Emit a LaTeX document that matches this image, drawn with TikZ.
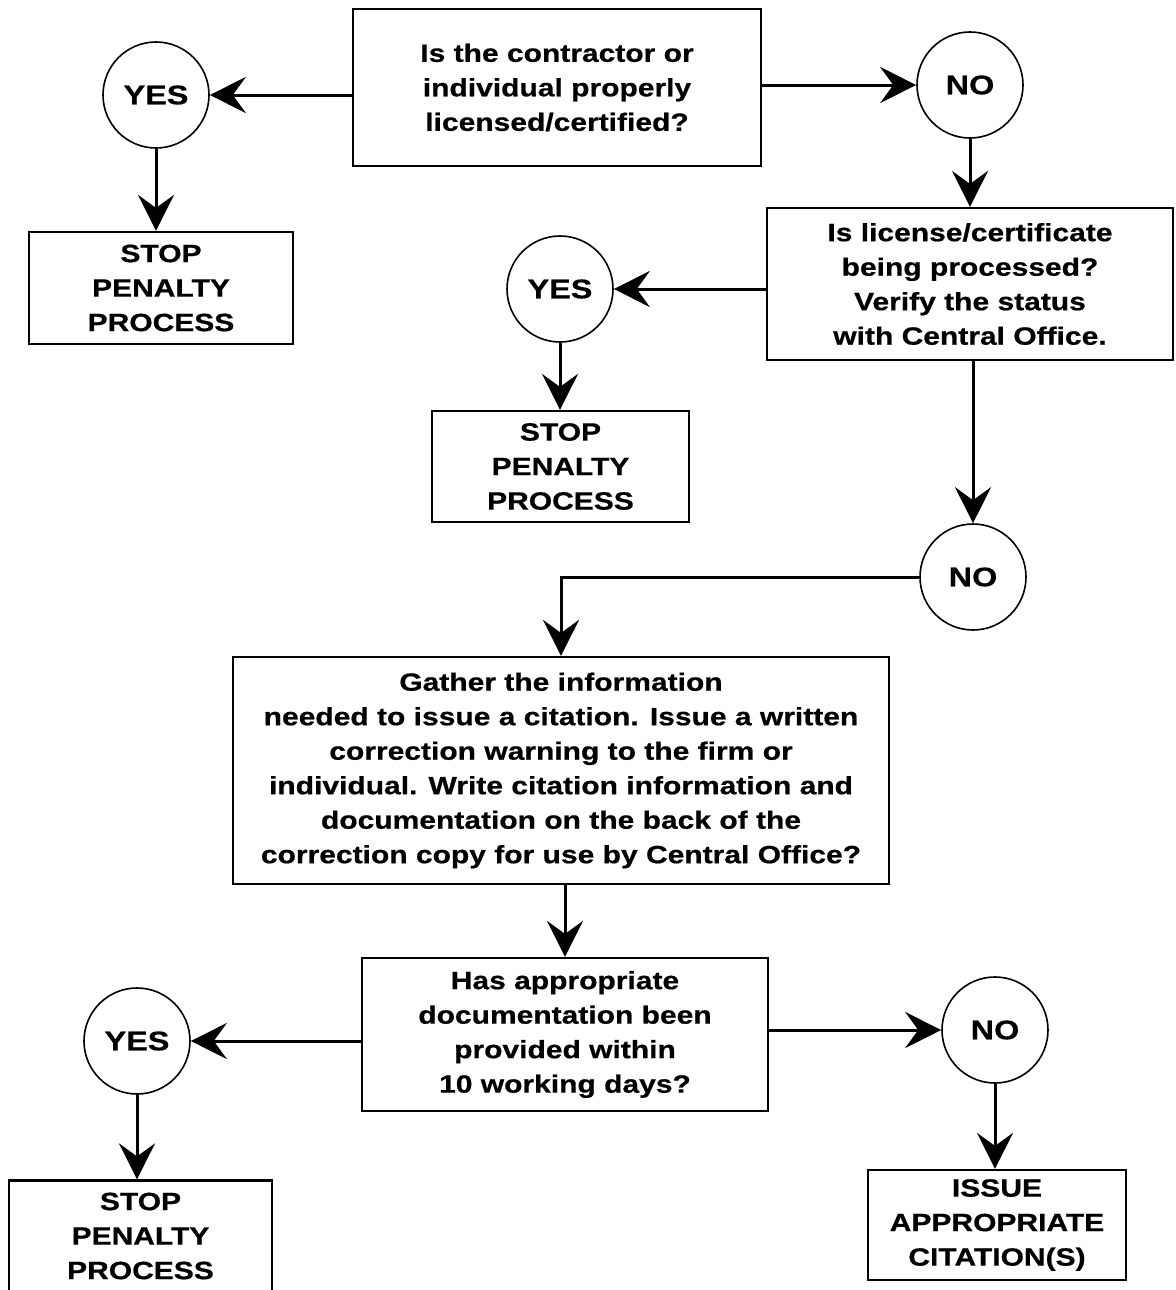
\documentclass[tikz,border=0pt]{standalone}
\usepackage{fontspec}
\setmainfont{Liberation Sans}[FakeStretch=1.2, BoldFeatures={FakeStretch=1.2, FakeBold=0.6}]
\usetikzlibrary{arrows.meta}
\begin{document}
\begin{tikzpicture}[x=1pt,y=-1pt,
  txt/.style={font=\fontsize{25}{34.5}\selectfont\bfseries, align=center},
  box/.style={txt, draw, line width=2.2pt, rectangle, inner sep=0pt},
  circ/.style={draw, line width=1.6pt, circle, minimum size=106pt, inner sep=0pt, font=\fontsize{27}{30}\selectfont\bfseries},
  arr/.style={line width=3pt, -{Stealth[length=36pt,width=36pt,inset=13pt]}}
]
\useasboundingbox (0,0) rectangle (1175,1290);
% boxes
\node[box, minimum width=408pt, minimum height=157pt] (b1) at (557,87.5) {Is the contractor or\\individual properly\\licensed/certified?};
\node[box, minimum width=406pt, minimum height=152pt] (b2) at (970,284) {Is license/certificate\\being processed?\\Verify the status\\with Central Office.};
\node[box, minimum width=264pt, minimum height=112pt] (s1) at (161,288) {STOP\\PENALTY\\PROCESS};
\node[box, minimum width=257pt, minimum height=111pt] (s2) at (560.5,466.5) {STOP\\PENALTY\\PROCESS};
\node[box, minimum width=656pt, minimum height=227pt] (b3) at (561,770.5) {Gather the information\\needed to issue a citation. Issue a written\\correction warning to the firm or\\individual. Write citation information and\\documentation on the back of the\\correction copy for use by Central Office?};
\node[box, minimum width=406pt, minimum height=153pt] (b4) at (565,1034.5) {Has appropriate\\documentation been\\provided within\\10 working days?};
\node[box, minimum width=263pt, minimum height=111pt] (s3) at (140.5,1236) {STOP\\PENALTY\\PROCESS};
\node[box, minimum width=258pt, minimum height=110pt] (b5) at (997,1225) {ISSUE\\APPROPRIATE\\CITATION(S)};
% circles
\node[circ] (y1) at (156,95) {YES};
\node[circ] (n1) at (970,85) {NO};
\node[circ] (y2) at (560,289) {YES};
\node[circ] (n2) at (973,577) {NO};
\node[circ] (y3) at (137,1041) {YES};
\node[circ] (n3) at (995,1030) {NO};
% connectors
\draw[arr] (b1.west |- y1.east) -- (y1.east);
\draw[arr] (b1.east |- n1.west) -- (n1.west);
\draw[arr] (y1.south) -- (y1.south |- s1.north);
\draw[arr] (n1.south) -- (n1.south |- b2.north);
\draw[arr] (b2.west |- y2.east) -- (y2.east);
\draw[arr] (y2.south) -- (y2.south |- s2.north);
\draw[arr] (b2.south -| n2.north) -- (n2.north);
\draw[arr] (n2.west) -| (b3.north);
\draw[arr] (b3.south -| b4.north) -- (b4.north);
\draw[arr] (b4.west |- y3.east) -- (y3.east);
\draw[arr] (b4.east |- n3.west) -- (n3.west);
\draw[arr] (y3.south) -- (y3.south |- s3.north);
\draw[arr] (n3.south) -- (n3.south |- b5.north);
\end{tikzpicture}
\end{document}
